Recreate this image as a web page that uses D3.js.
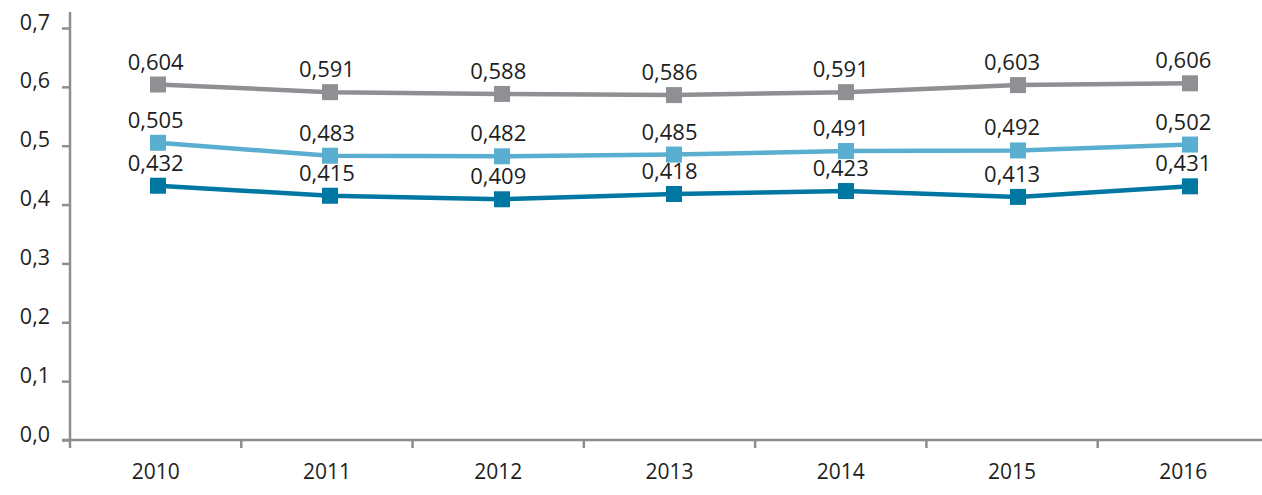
<!DOCTYPE html>
<html>
<head>
<meta charset="utf-8">
<script src="https://cdn.jsdelivr.net/npm/d3@7"></script>
<style>
  body { margin: 0; background: #fff; }
  svg text { font-family: "Open Sans", sans-serif; fill: #1e1e1e; }
</style>
</head>
<body>
<div id="chart"></div>
<script>
const years = ["2010", "2011", "2012", "2013", "2014", "2015", "2016"];
const greySeries = [0.604, 0.591, 0.588, 0.586, 0.591, 0.603, 0.606];
const lightSeries = [0.505, 0.483, 0.482, 0.485, 0.491, 0.492, 0.502];
const darkSeries = [0.432, 0.415, 0.409, 0.418, 0.423, 0.413, 0.431];
const yTicks = [0, 0.1, 0.2, 0.3, 0.4, 0.5, 0.6, 0.7];

const width = 1262, height = 495;
const axisColor = "#8d8e91";

const svg = d3.select("#chart")
  .append("svg")
  .attr("width", width)
  .attr("height", height);

const x = d3.scaleBand()
  .domain(years)
  .range([70, 1269]);

const xp = d3.scalePoint()
  .domain(years)
  .range([158, 1190]);

const y = d3.scaleLinear()
  .domain([0, 0.7])
  .range([440, 28]);

const fmt = d => d3.format(".1f")(d).replace(".", ",");
const fmt3 = d => d3.format(".3f")(d).replace(".", ",");

// y axis
const yAxis = svg.append("g")
  .attr("transform", "translate(70,0)")
  .call(d3.axisLeft(y).tickValues(yTicks).tickFormat(fmt).tickSize(8).tickPadding(12));
yAxis.select(".domain").remove();
yAxis.selectAll("line").attr("stroke", axisColor).attr("stroke-width", 2.5);
yAxis.selectAll("text").attr("font-size", 21.5).attr("dy", "0.05em");
svg.append("line")
  .attr("x1", 70).attr("x2", 70)
  .attr("y1", 12).attr("y2", 448)
  .attr("stroke", axisColor).attr("stroke-width", 2.5);

// x axis
const xAxis = svg.append("g")
  .attr("transform", "translate(0,440)")
  .call(d3.axisBottom(x).tickSize(0).tickPadding(24));
xAxis.select(".domain").remove();
xAxis.selectAll("text").attr("font-size", 21);
svg.append("line")
  .attr("x1", 62).attr("x2", width)
  .attr("y1", 440).attr("y2", 440)
  .attr("stroke", axisColor).attr("stroke-width", 2.5);
svg.selectAll(".xtick")
  .data(years.slice(1))
  .enter()
  .append("line")
  .attr("x1", d => x(d)).attr("x2", d => x(d))
  .attr("y1", 440).attr("y2", 448)
  .attr("stroke", axisColor).attr("stroke-width", 2.5);

const series = [
  { name: "grey", values: greySeries, color: "#8f9094" },
  { name: "light", values: lightSeries, color: "#5aafd0" },
  { name: "dark", values: darkSeries, color: "#0077a3" }
];

const line = d3.line()
  .x((d, i) => xp(years[i]))
  .y(d => y(d));

series.forEach(s => {
  const g = svg.append("g").attr("class", "series-" + s.name);

  g.append("path")
    .datum(s.values)
    .attr("fill", "none")
    .attr("stroke", s.color)
    .attr("stroke-width", 4.5)
    .attr("d", line);

  g.selectAll("rect")
    .data(s.values)
    .enter()
    .append("rect")
    .attr("x", (d, i) => xp(years[i]) - 8)
    .attr("y", d => y(d) - 8)
    .attr("width", 16)
    .attr("height", 16)
    .attr("fill", s.color);

  g.selectAll("text")
    .data(s.values)
    .enter()
    .append("text")
    .attr("x", (d, i) => x(years[i]) + x.bandwidth() / 2)
    .attr("y", d => y(d) - 15)
    .attr("text-anchor", "middle")
    .attr("font-size", 22)
    .text(d => fmt3(d));
});
</script>
</body>
</html>
